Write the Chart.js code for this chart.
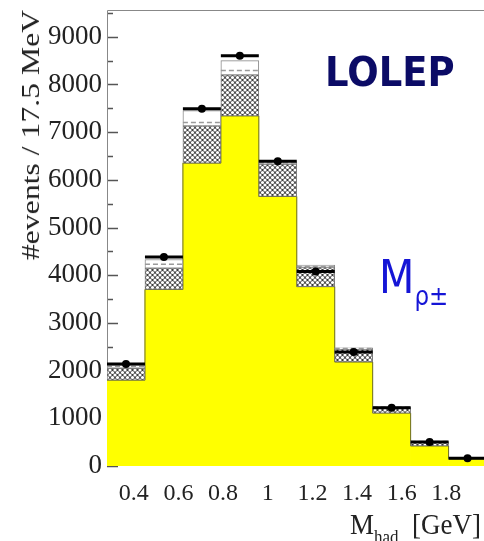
<!DOCTYPE html>
<html>
<head>
<meta charset="utf-8">
<script src="https://cdn.jsdelivr.net/npm/chart.js@4.4.1/dist/chart.umd.min.js"></script>
<style>
  html, body { margin: 0; padding: 0; background: #fff; overflow: hidden; }
  #wrap { position: relative; width: 484px; height: 541px; overflow: hidden; }
  #plot { position: absolute; left: 0; top: 0; }
  .lbl { position: absolute; white-space: nowrap; line-height: 1; }
  #tag { left: 325px; top: 49px; font: bold 37px "DejaVu Sans", sans-serif; color: #0b0b66;
         transform: scale(1, 1.1); transform-origin: left top; }
  #var { left: 379px; top: 250px; font: 41px "DejaVu Sans", sans-serif; color: #1515d6;
         transform: scale(1, 1.12); transform-origin: left top; }
  #var span { position: relative; top: 11px; font-size: 23px; }
  #ytitle { left: 31px; top: 135px; font: 26px "Liberation Serif", serif; color: #222;
            transform: translate(-50%, -50%) rotate(-90deg) scaleX(1.22); }
  #xtitle { left: 350px; top: 507px; font: 27px "Liberation Serif", serif; color: #222;
            transform: scale(1, 1.12); transform-origin: left top; }
  #xtitle span { position: relative; top: 8px; font-size: 17px; }
</style>
</head>
<body>
<div id="wrap">
  <canvas id="plot" width="510" height="541"></canvas>
  <div class="lbl" id="tag">LOLEP</div>
  <div class="lbl" id="var">M<span>ρ±</span></div>
  <div class="lbl" id="ytitle">#events / 17.5 MeV</div>
  <div class="lbl" id="xtitle">M<span>had</span>&nbsp; [GeV]</div>
</div>
<script>
// histogram bins (GeV) and per-bin contents
const binEdges = [0.28, 0.45, 0.62, 0.79, 0.96, 1.13, 1.30, 1.47, 1.64, 1.81, 1.98];
const signal = [1800, 3700, 6350, 7340, 5650, 3760, 2180, 1110, 420, 150];
const bkgHatch = [250, 450, 780, 860, 680, 410, 270, 110, 80, 12];
const bkgOther = [70, 180, 320, 300, 50, 40, 30, 20, 10, 5];
const dashLevel = [2090, 4230, 7200, 8290, 6350, 4185, 2465, 1235, 512, 166];
const dataCounts = [2140, 4380, 7490, 8600, 6390, 4080, 2390, 1220, 505, 165];
const xTicks = [0.4, 0.6, 0.8, 1.0, 1.2, 1.4, 1.6, 1.8, 2.0];
const yTicks = [0, 500, 1000, 1500, 2000, 2500, 3000, 3500, 4000, 4500,
                5000, 5500, 6000, 6500, 7000, 7500, 8000, 8500, 9000, 9500];
const xMin = 0.28, xMax = 2.0, yMax = 9560;

const centers = signal.map((_, i) => (binEdges[i] + binEdges[i + 1]) / 2);
const hatchTop = signal.map((v, i) => v + bkgHatch[i]);
const mcTotal = hatchTop.map((v, i) => v + bkgOther[i]);

function floating(lo, hi) {
  return centers.map((x, i) => ({ x, y: [lo ? lo[i] : 0, hi[i]] }));
}

// horizontal segment per bin, broken by null points
function binSegments(vals) {
  const pts = [];
  vals.forEach((v, i) => {
    pts.push({ x: binEdges[i], y: v }, { x: binEdges[i + 1], y: v }, { x: binEdges[i + 1], y: null });
  });
  return pts;
}

function stepOutline(vals) {
  const pts = vals.map((v, i) => ({ x: binEdges[i], y: v }));
  pts.push({ x: binEdges[vals.length], y: vals[vals.length - 1] });
  return pts;
}

const canvas = document.getElementById("plot");
const ctx = canvas.getContext("2d");

// dark ground with a diagonal lattice of white dots
function makeHatch() {
  const c = document.createElement("canvas");
  c.width = 5; c.height = 5;
  const g = c.getContext("2d");
  g.fillStyle = "#3c3c3c";
  g.fillRect(0, 0, 5, 5);
  g.fillStyle = "#ffffff";
  [[0, 0], [5, 0], [0, 5], [5, 5], [2.5, 2.5]].forEach(([x, y]) => {
    g.beginPath();
    g.arc(x, y, 1.6, 0, Math.PI * 2);
    g.fill();
  });
  return ctx.createPattern(c, "repeat");
}

// frame and inward y ticks, drawn under the histograms
const frameTicks = {
  id: "frameTicks",
  beforeDatasetsDraw(chart) {
    const { ctx: c, chartArea: a, scales: { y } } = chart;
    c.save();
    c.strokeStyle = "#555";
    c.lineWidth = 1.3;
    c.beginPath();
    y.ticks.forEach((t) => {
      const py = Math.round(y.getPixelForValue(t.value)) + 0.5;
      const len = t.value % 1000 === 0 ? 11 : 6;
      c.moveTo(a.left, py);
      c.lineTo(a.left + len, py);
    });
    c.stroke();
    c.strokeStyle = "#888";
    c.lineWidth = 1;
    c.beginPath();
    c.moveTo(a.left + 0.5, a.bottom);
    c.lineTo(a.left + 0.5, a.top + 0.5);
    c.lineTo(a.right, a.top + 0.5);
    c.stroke();
    c.restore();
  }
};

const barCommon = {
  type: "bar",
  grouped: false,
  barPercentage: 1,
  categoryPercentage: 1,
  borderSkipped: false
};

new Chart(ctx, {
  type: "bar",
  data: {
    datasets: [
      {
        type: "line",
        data: centers.map((x, i) => ({ x, y: dataCounts[i] })),
        showLine: false,
        pointRadius: 4,
        pointBackgroundColor: "#000",
        pointBorderWidth: 0,
        order: 0
      },
      {
        type: "line",
        data: binSegments(dataCounts),
        borderColor: "#000",
        borderWidth: 3,
        pointRadius: 0,
        spanGaps: false,
        order: 1
      },
      {
        type: "line",
        data: binSegments(dashLevel),
        borderColor: "#9a9a9a",
        borderWidth: 1.5,
        borderDash: [5, 3],
        pointRadius: 0,
        spanGaps: false,
        order: 2
      },
      Object.assign({}, barCommon, {
        data: floating(hatchTop, mcTotal),
        backgroundColor: "#ffffff",
        borderColor: "#8a8a8a",
        borderWidth: 1,
        order: 3
      }),
      Object.assign({}, barCommon, {
        data: floating(signal, hatchTop),
        backgroundColor: makeHatch(),
        borderColor: "#7a7a7a",
        borderWidth: 1,
        order: 4
      }),
      {
        type: "line",
        data: stepOutline(signal),
        stepped: "before",
        borderColor: "#6b6b2a",
        borderWidth: 1,
        pointRadius: 0,
        fill: false,
        order: 5
      },
      Object.assign({}, barCommon, {
        data: floating(null, signal),
        backgroundColor: "#ffff00",
        borderWidth: 0,
        order: 6
      })
    ]
  },
  options: {
    responsive: false,
    animation: false,
    layout: { padding: { top: 10, right: 19, left: 0, bottom: 0 } },
    plugins: { legend: { display: false }, tooltip: { enabled: false } },
    scales: {
      x: {
        type: "linear",
        min: xMin,
        max: xMax,
        offset: false,
        grid: { display: false, drawTicks: false },
        border: { display: false },
        afterBuildTicks: (s) => { s.ticks = xTicks.map((v) => ({ value: v })); },
        afterFit: (s) => { s.height = 75; s.paddingLeft = 0; s.paddingRight = 0; },
        ticks: {
          font: { family: "'Liberation Serif', serif", size: 24 },
          color: "#222",
          padding: 13,
          maxRotation: 0,
          autoSkip: false,
          callback: (v) => String(+Number(v).toFixed(1))
        }
      },
      y: {
        min: 0,
        max: yMax,
        grid: { display: false, drawTicks: false },
        border: { display: false },
        afterBuildTicks: (s) => { s.ticks = yTicks.map((v) => ({ value: v })); },
        afterFit: (s) => { s.width = 107; s.paddingTop = 0; s.paddingBottom = 0; },
        ticks: {
          autoSkip: false,
          font: { family: "'Liberation Serif', serif", size: 27 },
          color: "#222",
          padding: 5,
          callback: (v) => (v % 1000 === 0 ? v : "")
        }
      }
    }
  },
  plugins: [frameTicks]
});
</script>
</body>
</html>
